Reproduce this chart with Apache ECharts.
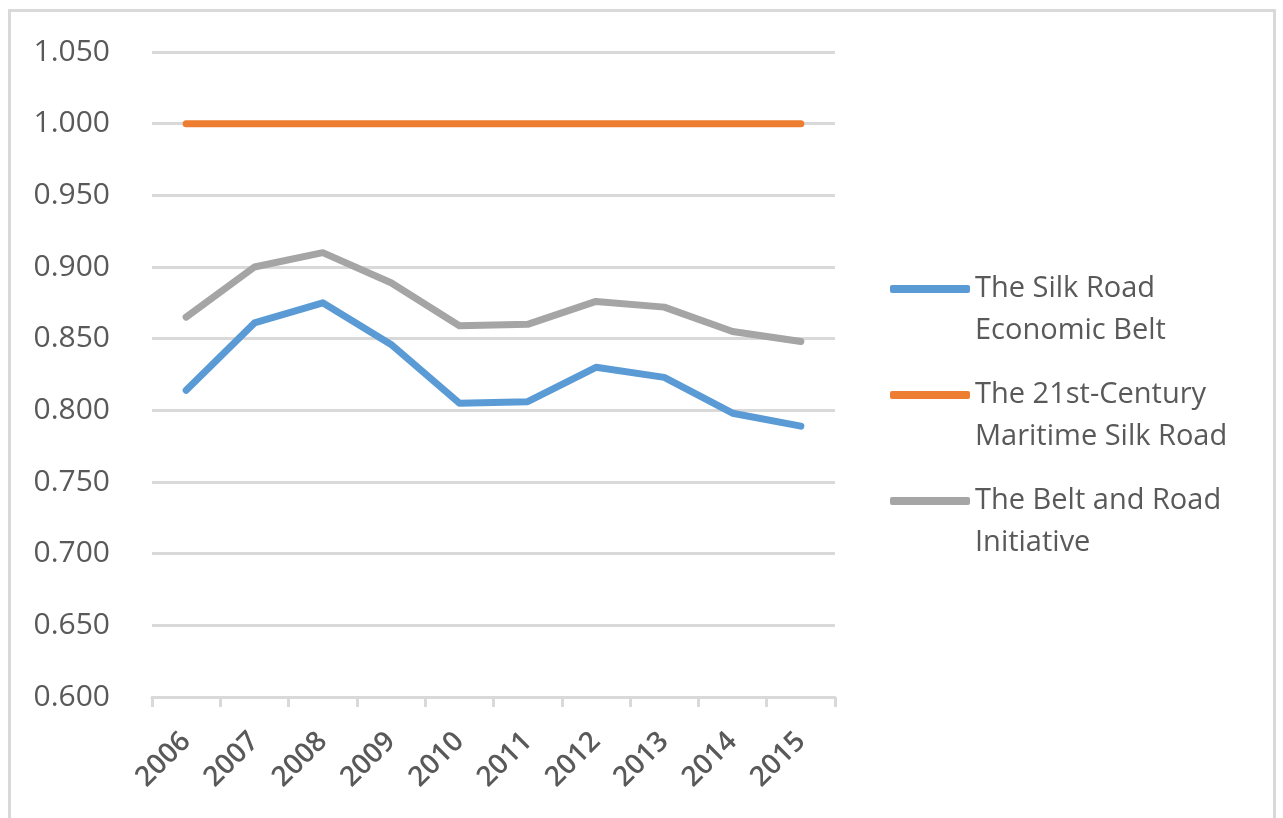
<!DOCTYPE html>
<html>
<head>
<meta charset="utf-8">
<script src="https://cdn.jsdelivr.net/npm/echarts@6/dist/echarts.min.js"></script>
<style>
    html, body { margin: 0; padding: 0; background: #fff; overflow: hidden; }
    #frame { position: absolute; left: 8px; top: 9px; width: 1268px; height: 830px; border: 3px solid #d9d9d9; box-sizing: border-box; }
    #chart { position: absolute; left: 0; top: 0; width: 1283px; height: 818px; }
</style>
</head>
<body>
<div id="frame"></div>
<div id="chart"></div>
<script>
// 数据
var years = ['2006', '2007', '2008', '2009', '2010', '2011', '2012', '2013', '2014', '2015'];
var silkRoadBelt = [0.814, 0.861, 0.875, 0.846, 0.805, 0.806, 0.830, 0.823, 0.798, 0.789];
var maritimeRoad = [1.000, 1.000, 1.000, 1.000, 1.000, 1.000, 1.000, 1.000, 1.000, 1.000];
var beltAndRoad = [0.865, 0.900, 0.910, 0.889, 0.859, 0.860, 0.876, 0.872, 0.855, 0.848];
var seriesNames = ['The Silk Road Economic Belt', 'The 21st-Century Maritime Silk Road', 'The Belt and Road Initiative'];
var legendLabels = ['The Silk Road\nEconomic Belt', 'The 21st-Century\nMaritime Silk Road', 'The Belt and Road\nInitiative'];
var colors = ['#5b9bd5', '#ed7d31', '#a5a5a5'];

var font = '"Open Sans", sans-serif';
var textColor = '#595959';
var lh = 42;
var legendCenters = [289, 395, 501];

var myChart = echarts.init(document.getElementById('chart'));

function makeSeries(i, data) {
    return {
        name: seriesNames[i],
        type: 'line',
        data: data,
        showSymbol: false,
        symbol: 'none',
        color: colors[i],
        lineStyle: { width: 7, color: colors[i], cap: 'round', join: 'round' },
        z: 3 + i
    };
}

var option = {
    animation: false,
    color: colors,
    grid: { left: 152, right: 448, top: 52, bottom: 121, containLabel: false, outerBoundsMode: 'none' },
    // 图例：每项单独一个，首行文字与线条对齐
    legend: seriesNames.map(function (n, i) {
        return {
            data: [n],
            orient: 'vertical',
            left: 890,
            top: legendCenters[i] - 1.5 * lh,
            padding: 0,
            itemWidth: 80,
            itemHeight: 8,
            itemGap: 0,
            icon: 'roundRect',
            selectedMode: false,
            formatter: function () { return ' \n' + legendLabels[i]; },
            textStyle: { fontFamily: font, fontSize: 29, lineHeight: lh, color: textColor }
        };
    }),
    xAxis: {
        type: 'category',
        data: years,
        boundaryGap: true,
        axisLine: { lineStyle: { color: '#d9d9d9', width: 3 } },
        axisTick: { show: true, length: 10, lineStyle: { color: '#d9d9d9', width: 3 } },
        axisLabel: { rotate: 45, margin: 40, fontFamily: font, fontSize: 28, fontWeight: 600, color: textColor, interval: 0 },
        splitLine: { show: false }
    },
    yAxis: {
        type: 'value',
        min: 0.6,
        max: 1.05,
        interval: 0.05,
        axisLine: { show: false },
        axisTick: { show: false },
        axisLabel: {
            margin: 42, fontFamily: font, fontSize: 30, color: textColor,
            formatter: function (v) { return v.toFixed(3); }
        },
        splitLine: { lineStyle: { color: '#d9d9d9', width: 3 } }
    },
    series: [
        makeSeries(0, silkRoadBelt),
        makeSeries(1, maritimeRoad),
        makeSeries(2, beltAndRoad)
    ]
};

myChart.setOption(option);
</script>
</body>
</html>
